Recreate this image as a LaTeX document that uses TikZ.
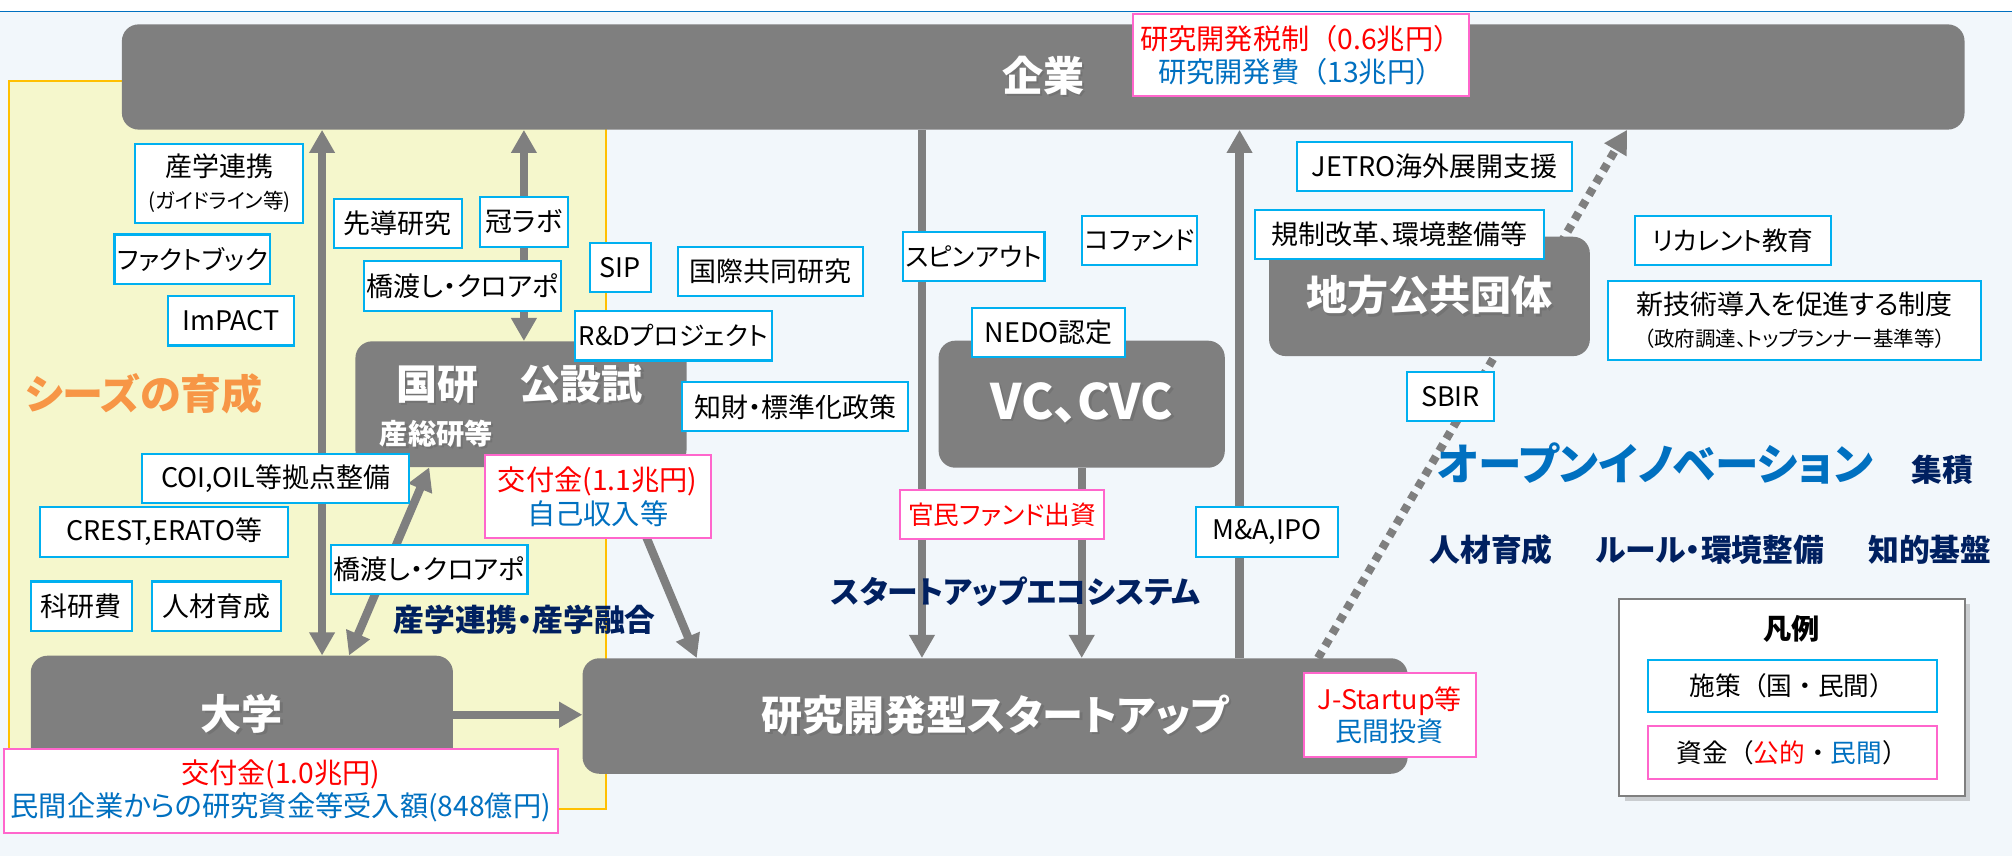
\documentclass[tikz,border=0pt]{standalone}
\usepackage{fontspec}
\setmainfont{Noto Sans CJK JP}[RawFeature=+palt]
\usetikzlibrary{arrows.meta,shadows,positioning}
\pgfdeclarelayer{back}
\pgfsetlayers{back,main}
\definecolor{boxgrey}{RGB}{127,127,127}
\definecolor{polblue}{RGB}{0,176,240}
\definecolor{fundpink}{RGB}{255,102,204}
\definecolor{fundred}{RGB}{255,0,0}
\definecolor{fundblue}{RGB}{0,112,192}
\definecolor{navy}{RGB}{0,32,96}
\definecolor{seedorange}{RGB}{247,150,70}
\definecolor{seedyellow}{RGB}{245,247,204}
\definecolor{seedgold}{RGB}{255,192,0}
\definecolor{paleblue}{RGB}{242,247,251}
% white text with a dark drop shadow
\newcommand\shtxt[1]{\makebox[0pt][l]{\hspace{1.8pt}\raisebox{-1.8pt}{\color{black!55}#1}}#1}
\newcommand\nopalt{\addfontfeature{RawFeature=-palt}}

\begin{document}
\begin{tikzpicture}[x=1pt,y=-1pt,>={Triangle[width=19pt,length=18pt]},
  pol/.style={draw=polblue,line width=1.6pt,fill=white,inner sep=2pt,minimum height=38.5pt,align=center,font=\fontsize{21}{25}\selectfont},
  kana/.style={font=\fontsize{20}{24}\selectfont},
  fund/.style={pol,draw=fundpink},
  orgtxt/.style={text=white,font=\bfseries\fontsize{32}{36}\selectfont},
  org/.style={orgtxt,fill=boxgrey,rounded corners=13pt},
  lbl/.style={text=navy,font=\bfseries\fontsize{24}{28}\selectfont},
  flow/.style={draw=boxgrey,line width=6.5pt}]
\useasboundingbox (0,0) rectangle (1568,667);
% organisations
\node[org,minimum width=1436pt,minimum height=82pt] (kigyo) at (813,60) {\shtxt{企業}};
\node[org,minimum width=258pt,minimum height=98pt] (kokken) at (406,315) {};
\node[orgtxt] (kokkentxt) at (405,300) {\shtxt{国研　公設試}};
\node[orgtxt,font=\bfseries\fontsize{22}{26}\selectfont] (sansoken) at (340,339) {\shtxt{産総研等}};
\node[org,minimum width=223pt,minimum height=99pt,font=\bfseries\fontsize{38}{42}\selectfont] (vc) at (843,315) {\shtxt{VC、CVC}};
\node[org,minimum width=250pt,minimum height=93pt] (chiho) at (1114,231) {\shtxt{地方公共団体}};
\node[org,minimum width=329pt,minimum height=92pt] (daigaku) at (188.5,557) {\shtxt{大学}};
\node[org,minimum width=643pt,minimum height=90pt] (startup) at (775.5,558) {\shtxt{研究開発型スタートアップ}};
% policies
\node[pol,minimum width=131pt,minimum height=61pt] (sangaku) at (171,143) {産学連携\\{\fontsize{16}{18}\selectfont (ガイドライン等)}};
\node[pol,kana,minimum width=115pt] (factbook) at (150,202) {ファクトブック};
\node[pol,minimum width=98.5pt] (impact) at (180,250) {ImPACT};
\node[pol,minimum width=100pt] (sendo) at (310,174) {先導研究};
\node[pol,minimum width=68.6pt] (kanlab) at (408.3,173) {冠ラボ};
\node[pol,minimum width=149pt] (kakehashiA) at (360.5,223) {橋渡し・クロアポ};
\node[pol,minimum width=47.4pt] (sip) at (483.3,208.5) {SIP};
\node[pol,minimum width=144pt] (kokusai) at (600.6,211.4) {国際共同研究};
\node[pol,kana,minimum width=154pt] (rnd) at (524.8,261.7) {R\&Dプロジェクト};
\node[pol,minimum width=176pt] (chizai) at (619.7,317) {知財・標準化政策};
\node[pol,minimum width=207.5pt] (coi) at (214.7,373) {COI,OIL等拠点整備};
\node[pol,minimum width=193pt] (crest) at (128,414.7) {CREST,ERATO等};
\node[pol,minimum width=78.7pt] (kaken) at (63.4,472.4) {科研費};
\node[pol,minimum width=100.5pt] (jinzai) at (168.8,472.4) {人材育成};
\node[pol,minimum width=149.3pt] (kakehashiB) at (334.4,443.9) {橋渡し・クロアポ};
\node[pol,kana,minimum width=109.6pt] (spinout) at (758.8,199.7) {スピンアウト};
\node[pol,kana,minimum width=86.7pt] (cofund) at (888,187.5) {コファンド};
\node[pol,minimum width=119.5pt] (nedo) at (817.2,259.2) {NEDO認定};
\node[pol,minimum width=213.8pt] (jetro) at (1118,129.6) {JETRO海外展開支援};
\node[pol,minimum width=225.6pt] (kisei) at (1090.8,182.7) {規制改革、環境整備等};
\node[pol,kana,minimum width=152.6pt] (recurrent) at (1350.3,187.6) {リカレント教育};
\node[pol,minimum width=291pt,minimum height=61.5pt] (shingijutsu) at (1398.4,249.7) {新技術導入を促進する制度\\{\fontsize{16}{18}\selectfont （政府調達、トップランナー基準等）}};
\node[pol,minimum width=67.8pt] (sbir) at (1130.4,308.8) {SBIR};
\node[pol,minimum width=111pt] (mna) at (987.2,414.7) {M\&A,IPO};
% funds
\node[fund,minimum width=262.4pt,minimum height=64pt,font=\fontsize{22}{26}\selectfont\nopalt] (zeisei) at (1013.8,43) {\textcolor{fundred}{研究開発税制（0.6兆円）}\\\textcolor{fundblue}{研究開発費（13兆円）}};
\node[fund,minimum width=176pt,minimum height=65pt,font=\fontsize{22}{26}\selectfont] (kofuA) at (465.8,387) {\textcolor{fundred}{交付金(1.1兆円)}\\\textcolor{fundblue}{自己収入等}};
\node[fund,minimum width=432pt,minimum height=65pt,font=\fontsize{22}{26}\selectfont] (kofuB) at (218.8,616.4) {\textcolor{fundred}{交付金(1.0兆円)}\\\textcolor{fundblue}{民間企業からの研究資金等受入額(848億円)}};
\node[fund,kana,minimum width=159pt] (kanmin) at (781,401) {\textcolor{fundred}{官民ファンド出資}};
\node[fund,minimum width=134pt,minimum height=65.4pt] (jstartup) at (1083,557.3) {\textcolor{fundred}{J-Startup等}\\\textcolor{fundblue}{民間投資}};
% labels
\node[text=seedorange,font=\bfseries\fontsize{32}{36}\selectfont] (seeds) at (112,307) {シーズの育成};
\node[lbl] (yugo) at (409,483) {産学連携・産学融合};
\node[lbl] (ecosys) at (791.6,461) {スタートアップエコシステム};
\node[text=fundblue,font=\bfseries\fontsize{34}{38}\selectfont] (openinno) at (1290,361) {オープンイノベーション};
\node[lbl] (shuseki) at (1513.5,366) {集積};
\node[lbl] (ikusei) at (1162,428.6) {人材育成};
\node[lbl] (rule) at (1332.6,428.6) {ルール・環境整備};
\node[lbl] (kiban) at (1504,428.6) {知的基盤};
% legend
\node[draw=boxgrey,line width=1.5pt,fill=white,drop shadow={shadow xshift=4pt,shadow yshift=-4pt,opacity=0.35},minimum width=269pt,minimum height=153pt] (legend) at (1396.5,543.5) {};
\node[font=\bfseries\fontsize{22}{26}\selectfont] (legtitle) at (1396,490) {凡例};
\node[pol,minimum width=225.6pt,minimum height=41pt,font=\fontsize{20}{24}\selectfont\nopalt] (legpol) at (1396.8,534.5) {施策（国・民間）};
\node[fund,minimum width=225.6pt,minimum height=41pt,font=\fontsize{20}{24}\selectfont\nopalt] (legfund) at (1396.8,586.5) {資金（\textcolor{fundred}{公的}・\textcolor{fundblue}{民間}）};

\begin{pgfonlayer}{back}
\fill[white] (0,0) rectangle (1568,9);
\fill[paleblue] (0,9) rectangle (1568,667);
\draw[fundblue,line width=1.2pt] (0,9) -- (1568,9);
\filldraw[fill=seedyellow,draw=seedgold,line width=1.5pt] (7,63) rectangle (472,630.5);
\coordinate (daiTop) at ([xshift=62.5pt]daigaku.north);
\coordinate (spinEnd) at ([xshift=-57pt]startup.north);
\coordinate (mnaStart) at ([xshift=190.5pt]startup.north);
\draw[flow,<->] (daiTop |- kigyo.south) -- (daiTop);
\draw[flow,<->] (kanlab |- kigyo.south) -- (kanlab |- kokken.north);
\draw[flow,<->] ([xshift=-71.5pt]kokken.south) -- ([xshift=83.5pt]daigaku.north);
\draw[flow,->] ([xshift=75pt]kokken.south) -- ([xshift=-232.5pt]startup.north);
\draw[flow,->] (daigaku.east) -- (daigaku.east -| startup.west);
\draw[flow,->] (spinEnd |- kigyo.south) -- (spinEnd);
\draw[flow,->] (vc.south) -- (vc.south |- startup.north);
\draw[flow,->] (mnaStart) -- (mnaStart |- kigyo.south);
\draw[flow,->,dash pattern=on 6pt off 5pt] ([xshift=-70pt]startup.north east) -- ([xshift=455pt]kigyo.south);
\end{pgfonlayer}
\end{tikzpicture}
\end{document}
